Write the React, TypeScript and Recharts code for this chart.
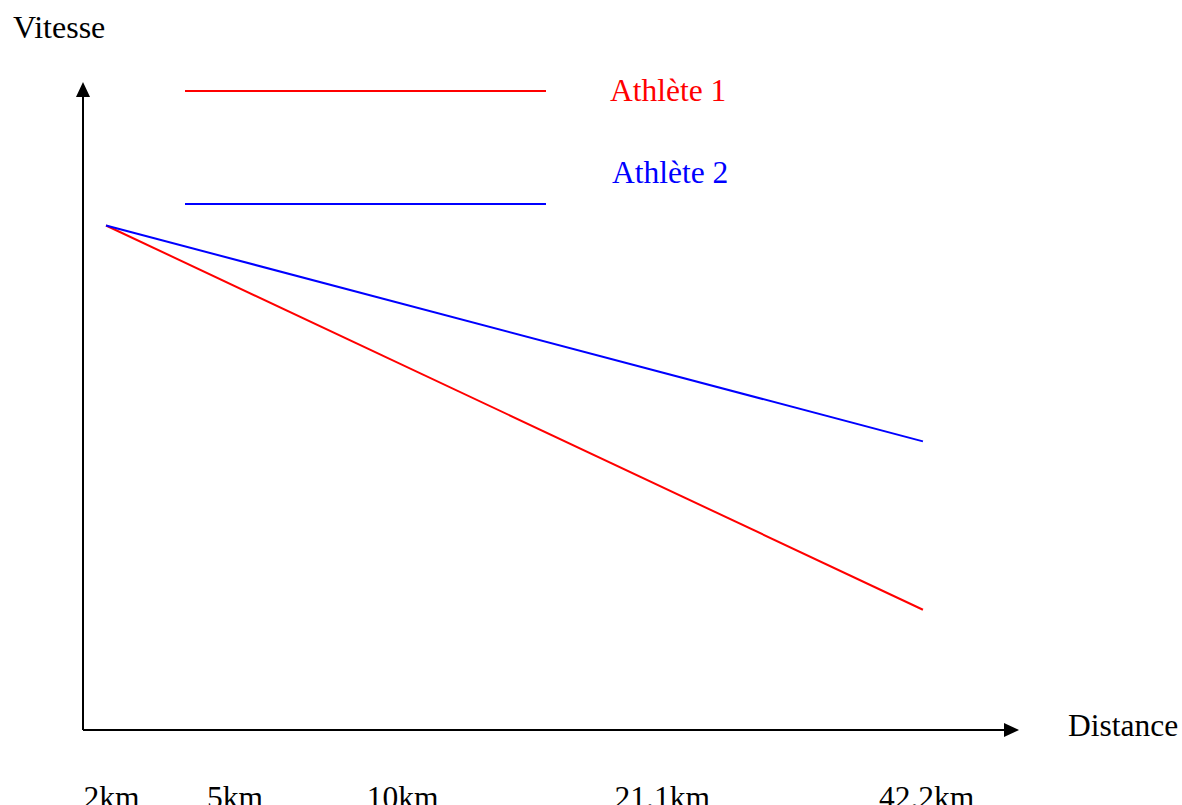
import React from "react";
import {
  LineChart,
  Line,
  XAxis,
  YAxis,
  Legend,
  Label,
  ReferenceDot,
} from "recharts";

const FONT = '"Liberation Serif", "Times New Roman", serif';
const FS = 31.5;

// distance labels and where they sit along the (unitless) x axis
const distanceLabels = ["2km", "5km", "10km", "21.1km", "42.2km"];
const labelPositions = [3.1, 16.5, 34.7, 62.9, 91.6];

// each athlete: start and end of race
const pointX = [2.5, 91.2];
const athlete1 = [79.7, 19.0];
const athlete2 = [79.7, 45.6];

const data = pointX.map((x, i) => ({
  x,
  a1: athlete1[i],
  a2: athlete2[i],
}));

const DistanceTick = (props: any) => {
  const { x, y, payload } = props;
  const idx = labelPositions.indexOf(payload.value);
  return (
    <text x={x} y={y + 70} textAnchor="middle" fontFamily={FONT} fontSize={FS} fill="#000">
      {distanceLabels[idx]}
    </text>
  );
};

const UpArrow = (props: any) => {
  const { cx, cy } = props;
  return <polygon points={`${cx},${cy - 15} ${cx - 7},${cy} ${cx + 7},${cy}`} fill="#000" />;
};

const RightArrow = (props: any) => {
  const { cx, cy } = props;
  return <polygon points={`${cx + 15},${cy} ${cx},${cy - 7} ${cx},${cy + 7}`} fill="#000" />;
};

// drawn with overflow visible so the legend takes no room from the plot
const LegendBox = () => (
  <svg width={1} height={1} style={{ display: "block", overflow: "visible" }}>
    <line x1={185} y1={91} x2={546} y2={91} stroke="#ff0000" strokeWidth={2} />
    <text x={610} y={101} fontFamily={FONT} fontSize={FS} fill="#ff0000">
      Athlète 1
    </text>
    <line x1={185} y1={204} x2={546} y2={204} stroke="#0000ff" strokeWidth={2} />
    <text x={612} y={183} fontFamily={FONT} fontSize={FS} fill="#0000ff">
      Athlète 2
    </text>
  </svg>
);

export default function App() {
  return (
    <div style={{ position: "absolute", left: 0, top: 0, width: 1182, height: 805, background: "#fff" }}>
      <LineChart
        width={1182}
        height={805}
        data={data}
        margin={{ top: 97, right: 178, left: 23, bottom: -1 }}
      >
        <XAxis
          type="number"
          dataKey="x"
          domain={[0, 100]}
          ticks={labelPositions}
          interval={0}
          tick={<DistanceTick />}
          tickLine={false}
          height={76}
          axisLine={{ stroke: "#000", strokeWidth: 2 }}
        >
          <Label
            content={(p: any) => (
              <text
                x={p.viewBox.x + p.viewBox.width + 64}
                y={p.viewBox.y + 6}
                fontFamily={FONT}
                fontSize={FS}
                fill="#000"
              >
                Distance
              </text>
            )}
          />
        </XAxis>
        <YAxis
          type="number"
          domain={[0, 100]}
          width={60}
          tick={false}
          tickLine={false}
          axisLine={{ stroke: "#000", strokeWidth: 2 }}
        >
          <Label
            content={(p: any) => (
              <text x={p.viewBox.x - 10} y={p.viewBox.y - 59} fontFamily={FONT} fontSize={32} fill="#000">
                Vitesse
              </text>
            )}
          />
        </YAxis>
        <Legend
          content={<LegendBox />}
          wrapperStyle={{ position: "absolute", top: 0, left: 0, width: 1, height: 1 }}
        />
        <ReferenceDot x={0} y={100} ifOverflow="visible" shape={<UpArrow />} />
        <ReferenceDot x={100} y={0} ifOverflow="visible" shape={<RightArrow />} />
        <Line
          type="linear"
          dataKey="a1"
          name="Athlète 1"
          stroke="#ff0000"
          strokeWidth={2}
          dot={false}
          activeDot={false}
          isAnimationActive={false}
        />
        <Line
          type="linear"
          dataKey="a2"
          name="Athlète 2"
          stroke="#0000ff"
          strokeWidth={2}
          dot={false}
          activeDot={false}
          isAnimationActive={false}
        />
      </LineChart>
    </div>
  );
}
